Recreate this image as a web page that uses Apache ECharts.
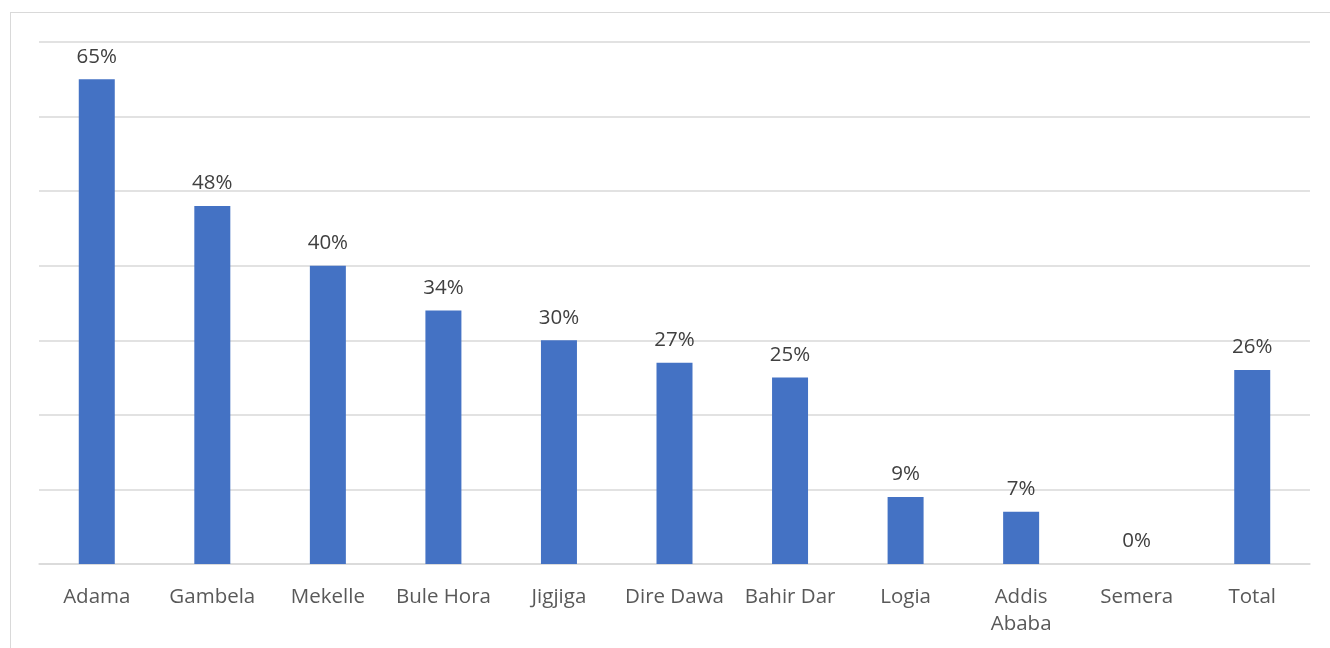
<!DOCTYPE html>
<html>
<head>
<meta charset="utf-8">
<script src="https://cdn.jsdelivr.net/npm/echarts@6/dist/echarts.min.js"></script>
<style>
  html, body { margin: 0; padding: 0; background: #fff; overflow: hidden; }
  #frame { position: absolute; left: 10px; top: 12px; width: 1340px; height: 660px; border: 1px solid #d9d9d9; box-sizing: border-box; }
  #chart { position: absolute; left: 0; top: 0; width: 1330px; height: 648px; }
</style>
</head>
<body>
<div id="frame"></div>
<div id="chart"></div>
<script>
const cities = ['Adama', 'Gambela', 'Mekelle', 'Bule Hora', 'Jigjiga', 'Dire Dawa', 'Bahir Dar', 'Logia', 'Addis\nAbaba', 'Semera', 'Total'];
const shares = [65, 48, 40, 34, 30, 27, 25, 9, 7, 0, 26];

const myChart = echarts.init(document.getElementById('chart'));
const fontFamily = 'Open Sans';
let option = {
  animation: false,
  backgroundColor: 'transparent',
  grid: { left: 39, right: 20, top: 42, bottom: 84 },
  xAxis: {
    type: 'category',
    data: cities,
    axisTick: { show: false },
    axisLine: { lineStyle: { color: '#d9d9d9', width: 1.5 } },
    axisLabel: {
      color: '#595959',
      fontSize: 20.5,
      fontFamily: fontFamily,
      margin: 20,
      lineHeight: 27,
      interval: 0
    }
  },
  yAxis: {
    type: 'value',
    min: 0,
    max: 70,
    interval: 10,
    axisLabel: { show: false },
    axisLine: { show: false },
    axisTick: { show: false },
    splitLine: { lineStyle: { color: '#d9d9d9', width: 1.5 } }
  },
  series: [{
    type: 'bar',
    data: shares,
    barWidth: 36,
    itemStyle: { color: '#4472c4' },
    label: {
      show: true,
      position: 'top',
      distance: 12,
      formatter: '{c}%',
      color: '#404040',
      fontSize: 20.5,
      fontFamily: fontFamily
    }
  }]
};
option && myChart.setOption(option);
</script>
</body>
</html>
